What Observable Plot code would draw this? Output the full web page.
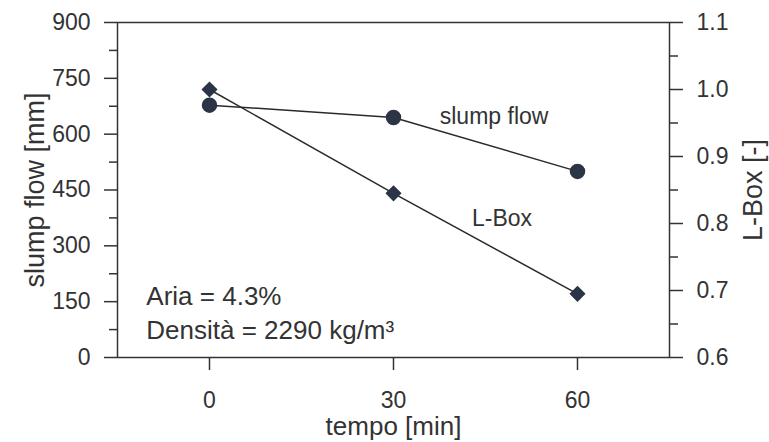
<!DOCTYPE html>
<html><head><meta charset="utf-8">
<script src="https://cdn.jsdelivr.net/npm/d3@7"></script>
<script src="https://cdn.jsdelivr.net/npm/@observablehq/plot@0.6"></script>
<style>
body{margin:0;background:#fff;}
#chart svg{font-family:"Liberation Sans",Arial,Helvetica,sans-serif;}
</style>
</head><body><div id="chart"></div>
<script>
// Data
const tempo = [0, 30, 60];
const slumpFlow = [678, 645, 500];      // mm (left axis)
const lBox = [1.0, 0.845, 0.695];       // - (right axis)
const xTicks = [0, 30, 60];
const leftTicks = [0, 150, 300, 450, 600, 750, 900];
const leftMinor = [75, 225, 375, 525, 675, 825];
const rightTicks = [0.6, 0.7, 0.8, 0.9, 1.0, 1.1];
const rightMinor = [0.65, 0.75, 0.85, 0.95, 1.05];
const seriesNames = ["slump flow", "L-Box"];
const seriesLabelX = [46.4, 47.7];
const seriesLabelY = [647, 373];
const infoLines = ["Aria = 4.3%", "Densità = 2290 kg/m³"];
const infoX = [-10.3, -10.3];
const infoY = [164, 72];
const xTitle = "tempo [min]";
const yLeftTitle = "slump flow [mm]";
const yRightTitle = "L-Box [-]";

// right axis 0.6–1.1 mapped on left 0–900
const toY = v => (v - 0.6) / 0.5 * 900;
const fromY = y => y / 900 * 0.5 + 0.6;

const slumpData = tempo.map((t, i) => ({t, v: slumpFlow[i]}));
const lboxData = tempo.map((t, i) => ({t, v: toY(lBox[i])}));
const seriesLabels = seriesNames.map((s, i) => ({s, x: seriesLabelX[i], y: seriesLabelY[i]}));
const infos = infoLines.map((s, i) => ({s, x: infoX[i], y: infoY[i]}));

const ink = "#333333";
const markFill = "#2b3545";
const tickFont = 23;

const chart = Plot.plot({
  width: 769,
  height: 442,
  marginLeft: 117,
  marginRight: 100,
  marginTop: 22,
  marginBottom: 85,
  style: {background: "#fff", color: ink, fontFamily: "Liberation Sans, Arial, sans-serif", fontSize: "23px"},
  x: {domain: [-15, 75]},
  y: {domain: [0, 900]},
  marks: [
    Plot.frame({stroke: ink, strokeWidth: 1.5}),
    Plot.axisY({anchor: "left", ticks: leftTicks, tickSize: 13, tickPadding: 14, fontSize: tickFont, label: null, strokeWidth: 1.5}),
    Plot.axisY({anchor: "left", ticks: leftMinor, tickSize: 8, tickFormat: () => "", label: null, strokeWidth: 1.5}),
    Plot.axisY({anchor: "right", ticks: rightTicks.map(toY), tickSize: 13, tickPadding: 14, fontSize: tickFont, tickFormat: d => fromY(d).toFixed(1), label: null, strokeWidth: 1.5}),
    Plot.axisY({anchor: "right", ticks: rightMinor.map(toY), tickSize: 8, tickFormat: () => "", label: null, strokeWidth: 1.5}),
    Plot.axisX({anchor: "bottom", ticks: xTicks, tickSize: 13, tickPadding: 21, fontSize: tickFont, label: null, strokeWidth: 1.5}),
    Plot.text([xTitle], {frameAnchor: "bottom", dy: 69, lineAnchor: "middle", textAnchor: "middle", fontSize: 26, fill: ink}),
    Plot.text([yLeftTitle], {frameAnchor: "left", dx: -82, rotate: -90, textAnchor: "middle", lineAnchor: "middle", fontSize: 27, fill: ink}),
    Plot.text([yRightTitle], {frameAnchor: "right", dx: 84, rotate: -90, textAnchor: "middle", lineAnchor: "middle", fontSize: 27, fill: ink}),
    Plot.line(slumpData, {x: "t", y: "v", stroke: "#2a2a2a", strokeWidth: 1.5}),
    Plot.line(lboxData, {x: "t", y: "v", stroke: "#2a2a2a", strokeWidth: 1.5}),
    Plot.dot(slumpData, {x: "t", y: "v", r: 7, fill: markFill, stroke: markFill, symbol: "circle"}),
    Plot.dot(lboxData, {x: "t", y: "v", r: 6.3, fill: markFill, stroke: markFill, symbol: "diamond2"}),
    Plot.text(seriesLabels, {x: "x", y: "y", text: "s", fontSize: 23, fill: ink}),
    Plot.text(infos, {x: "x", y: "y", text: "s", fontSize: 26, textAnchor: "start", fill: ink})
  ]
});
document.getElementById("chart").appendChild(chart);
</script>
</body></html>
